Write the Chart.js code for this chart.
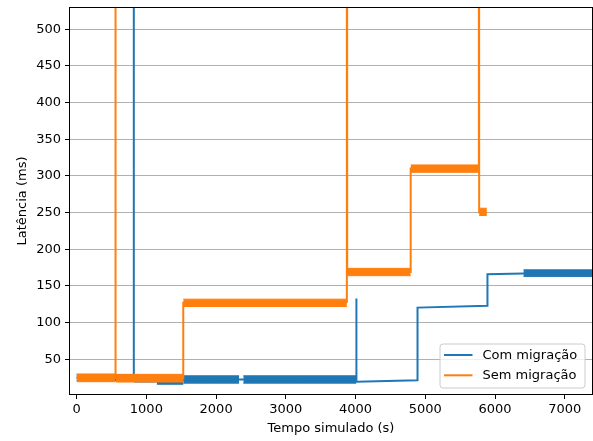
<!DOCTYPE html>
<html>
<head>
<meta charset="utf-8">
<script src="https://cdn.jsdelivr.net/npm/chart.js@4/dist/chart.umd.min.js"></script>
<style>
  html, body { margin: 0; padding: 0; background: #fff; }
  #wrap { width: 593px; height: 441px; }
</style>
</head>
<body>
<div id="wrap"><canvas id="c" width="593" height="441"></canvas></div>
<script>
// ---- data -------------------------------------------------------------
const seriesNames = ['Com migração', 'Sem migração'];

// Com migração: latency trace (time in s, latency in ms)
const comTime    = [0,  818, 818,  822, 1529, 4009, 4009, 4015, 4888, 4888, 5891, 5891, 6407, 7390];
const comLatency = [25, 24,  2000, 21,  22,   23,   133,  19.5, 21.5, 120.5, 123,  166,  167,  168];
// Com migração: noisy plateaus (start, end, lowest, highest latency)
const comBandStart = [0,   822,  1150, 1529, 2390, 6407];
const comBandEnd   = [818, 1150, 1529, 2330, 4009, 7390];
const comBandLow   = [21,  19,   16,   17.5, 17.5, 163];
const comBandHigh  = [29,  26,   24,   27.5, 27.5, 172];

// Sem migração: latency trace
const semTime    = [0,  556, 556,  560, 1529, 1529, 3875, 3875, 3880, 4790, 4790, 5768, 5768, 5772, 5882];
const semLatency = [25, 25,  2000, 25,  24,   127,  128,  2000, 169,  169,  310,  310,  2000, 250,  250];
// Sem migração: noisy plateaus
const semBandStart = [0,    560,  1529, 3880, 4790, 5772];
const semBandEnd   = [556,  1529, 3875, 4790, 5768, 5882];
const semBandLow   = [19.5, 19,   122,  164,  305,  246];
const semBandHigh  = [30,   29.5, 132,  174,  315,  256];

const xTicks = [0, 1000, 2000, 3000, 4000, 5000, 6000, 7000];
const yTicks = [50, 100, 150, 200, 250, 300, 350, 400, 450, 500];
const xTitle = 'Tempo simulado (s)';
const yTitle = 'Latência (ms)';

// ---- helpers ----------------------------------------------------------
const BLUE = '#1f77b4';
const ORANGE = '#ff7f0e';
const FONT = 'DejaVu Sans';

function trace(times, values) {
  return times.map((t, i) => ({ x: t, y: values[i] }));
}
function bandEdge(starts, ends, levels) {
  const pts = [];
  starts.forEach((s, i) => {
    pts.push({ x: s, y: levels[i] });
    pts.push({ x: ends[i], y: levels[i] });
    pts.push({ x: ends[i], y: null });
  });
  return pts;
}
function lineSet(label, data, color) {
  return { label, data, borderColor: color, backgroundColor: color, borderWidth: 2,
           pointRadius: 0, tension: 0, fill: false, spanGaps: false };
}
function bandSet(label, data, color, fill) {
  return { label, data, borderColor: color, backgroundColor: color, borderWidth: 1,
           pointRadius: 0, tension: 0, fill, spanGaps: false };
}

// axes frame (all four spines)
const framePlugin = {
  id: 'frame',
  afterDatasetsDraw(chart) {
    const { ctx, chartArea: a } = chart;
    ctx.save();
    ctx.strokeStyle = '#000';
    ctx.lineWidth = 1;
    ctx.strokeRect(Math.round(a.left) - 0.5, Math.round(a.top) - 0.5,
                   Math.round(a.right - a.left) + 1, Math.round(a.bottom - a.top) + 1);
    ctx.restore();
  }
};

// legend box in the lower right corner of the plot
const legendPlugin = {
  id: 'boxLegend',
  afterDraw(chart) {
    const { ctx, chartArea: a } = chart;
    const entries = [[seriesNames[0], BLUE], [seriesNames[1], ORANGE]];
    const w = 145, h = 44;
    const x0 = a.right - 7.5 - w, y0 = a.bottom - 6.5 - h;
    ctx.save();
    ctx.beginPath();
    ctx.roundRect(x0 + 0.5, y0 + 0.5, w, h, 3);
    ctx.fillStyle = 'rgba(255,255,255,0.8)';
    ctx.fill();
    ctx.strokeStyle = '#cccccc';
    ctx.lineWidth = 1;
    ctx.stroke();
    ctx.font = '13px "' + FONT + '"';
    ctx.textBaseline = 'middle';
    ctx.fillStyle = '#000';
    entries.forEach(([name, color], i) => {
      const yy = y0 + 11.5 + i * 20.3;
      ctx.beginPath();
      ctx.moveTo(x0 + 4.5, yy);
      ctx.lineTo(x0 + 33, yy);
      ctx.strokeStyle = color;
      ctx.lineWidth = 2;
      ctx.stroke();
      ctx.fillText(name, x0 + 43, yy + 0.5);
    });
    ctx.restore();
  }
};

// ---- chart ------------------------------------------------------------
new Chart(document.getElementById('c'), {
  type: 'line',
  data: {
    datasets: [
      lineSet(seriesNames[1], trace(semTime, semLatency), ORANGE),
      bandSet(seriesNames[1] + ' máx', bandEdge(semBandStart, semBandEnd, semBandHigh), ORANGE, '+1'),
      bandSet(seriesNames[1] + ' mín', bandEdge(semBandStart, semBandEnd, semBandLow), ORANGE, false),
      lineSet(seriesNames[0], trace(comTime, comLatency), BLUE),
      bandSet(seriesNames[0] + ' máx', bandEdge(comBandStart, comBandEnd, comBandHigh), BLUE, '+1'),
      bandSet(seriesNames[0] + ' mín', bandEdge(comBandStart, comBandEnd, comBandLow), BLUE, false)
    ]
  },
  options: {
    responsive: false,
    animation: false,
    devicePixelRatio: 1,
    parsing: false,
    normalized: true,
    layout: { padding: { top: 8, right: 1, left: 0, bottom: 0 } },
    plugins: { legend: { display: false }, tooltip: { enabled: false } },
    scales: {
      x: {
        type: 'linear', min: -95, max: 7390,
        afterBuildTicks: s => { s.ticks = xTicks.map(v => ({ value: v })); },
        afterFit: s => { s.height = 47; },
        border: { display: false },
        grid: { drawOnChartArea: false, tickLength: 5, tickColor: '#000', tickWidth: 1 },
        ticks: { color: '#000', font: { family: FONT, size: 13 }, padding: 3, maxRotation: 0,
                 callback: v => String(v) },
        title: { display: true, text: xTitle, color: '#000', font: { family: FONT, size: 13 },
                 padding: { top: 0, bottom: 5 } }
      },
      y: {
        type: 'linear', min: 2.7, max: 529,
        afterBuildTicks: s => { s.ticks = yTicks.map(v => ({ value: v })); },
        afterFit: s => { s.width = 70; s.paddingTop = 0; s.paddingBottom = 0; },
        border: { display: false },
        grid: { color: '#b0b0b0', lineWidth: 1, tickLength: 5, tickColor: '#000', tickWidth: 1 },
        ticks: { color: '#000', font: { family: FONT, size: 13 }, padding: 4,
                 callback: v => String(v) },
        title: { display: true, text: yTitle, color: '#000', font: { family: FONT, size: 13 },
                 padding: { top: 15, bottom: 0 } }
      }
    }
  },
  plugins: [framePlugin, legendPlugin]
});
</script>
</body>
</html>
